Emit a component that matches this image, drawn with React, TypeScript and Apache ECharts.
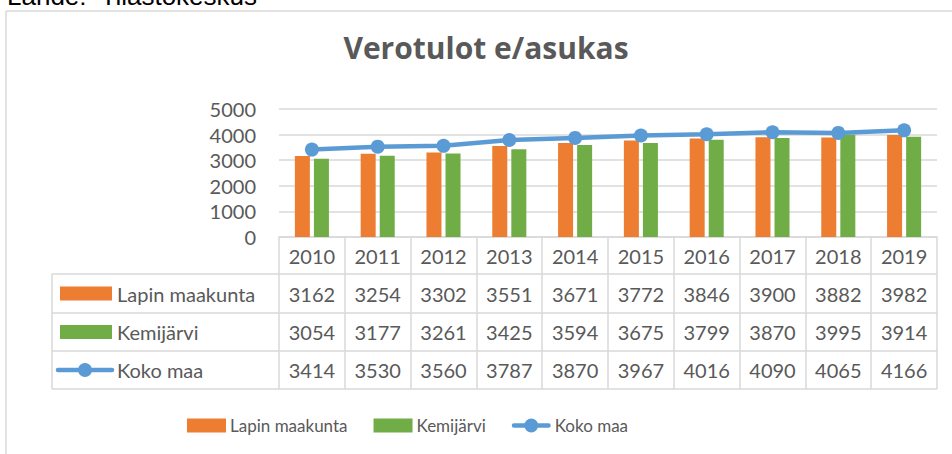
import React, { useEffect, useRef } from "react";
import * as echarts from "echarts";

const years = ["2010", "2011", "2012", "2013", "2014", "2015", "2016", "2017", "2018", "2019"];
const lapin = [3162, 3254, 3302, 3551, 3671, 3772, 3846, 3900, 3882, 3982];
const kemijarvi = [3054, 3177, 3261, 3425, 3594, 3675, 3799, 3870, 3995, 3914];
const kokoMaa = [3414, 3530, 3560, 3787, 3870, 3967, 4016, 4090, 4065, 4166];
const seriesNames = ["Lapin maakunta", "Kemijärvi", "Koko maa"];
const yTicks = { min: 0, max: 5000, interval: 1000 };

const ORANGE = "#ED7D31";
const GREEN = "#70AD47";
const BLUE = "#5B9BD5";
const TEXT = "#595959";
const GRID = "#D9D9D9";
const FONT = 'Lato, "Open Sans", sans-serif';
const LINE_ICON =
  "path://M2,4.75 H37 A2.25,2.25 0 0 1 37,9.25 H2 A2.25,2.25 0 0 1 2,4.75 Z M12.5,7 A7,7 0 1 1 26.5,7 A7,7 0 1 1 12.5,7 Z";

export default function App() {
  const ref = useRef<HTMLDivElement>(null);
  useEffect(() => {
    if (!ref.current) return;
    const chart = echarts.init(ref.current, null, { renderer: "svg" });
    const tableLeft = 52;
    const tableRight = 937;
    const rowLines = [274, 313, 351, 389];
    const rowCenters = [293.5, 332, 370];
    const graphics: any[] = [
      // outer chart border
      { type: "line", shape: { x1: 6, y1: 11, x2: 952, y2: 11 }, style: { stroke: GRID, lineWidth: 1.5 } },
      { type: "line", shape: { x1: 6, y1: 11, x2: 6, y2: 454 }, style: { stroke: GRID, lineWidth: 1.5 } },
      {
        type: "text",
        x: 7,
        y: -4,
        style: { text: "Lähde:  Tilastokeskus", fill: "#000", font: '26px "Liberation Sans", Arial, sans-serif', verticalAlign: "middle" },
      },
      {
        type: "text",
        x: 486,
        y: 47,
        style: { text: "Verotulot e/asukas", fill: TEXT, font: 'bold 30px "Open Sans", Lato, sans-serif', align: "center", verticalAlign: "middle" },
      },
      // table left border
      { type: "line", shape: { x1: tableLeft, y1: 274, x2: tableLeft, y2: 389 }, style: { stroke: GRID, lineWidth: 1.5 } },
      ...rowLines.map((y) => ({
        type: "line",
        shape: { x1: tableLeft, y1: y, x2: tableRight, y2: y },
        style: { stroke: GRID, lineWidth: 1.5 },
      })),
      // row keys
      { type: "rect", shape: { x: 60, y: rowCenters[0] - 7, width: 52, height: 14 }, style: { fill: ORANGE } },
      { type: "rect", shape: { x: 60, y: rowCenters[1] - 7, width: 52, height: 14 }, style: { fill: GREEN } },
      { type: "line", shape: { x1: 58, y1: rowCenters[2], x2: 112, y2: rowCenters[2] }, style: { stroke: BLUE, lineWidth: 4.5, lineCap: "round" } },
      { type: "circle", shape: { cx: 85, cy: rowCenters[2], r: 7 }, style: { fill: BLUE } },
      ...seriesNames.map((n, i) => ({
        type: "text",
        x: 117,
        y: rowCenters[i],
        style: { text: n, fill: TEXT, font: `20px ${FONT}`, verticalAlign: "middle" },
      })),
    ];

    chart.setOption({
      animation: false,
      textStyle: { fontFamily: FONT },
      grid: { left: 279, right: 15, top: 109, bottom: 217, containLabel: false },
      legend: {
        left: 187,
        top: 417,
        padding: 0,
        itemWidth: 39,
        itemHeight: 14,
        itemGap: 26,
        textStyle: { color: TEXT, fontSize: 17, fontFamily: FONT, padding: [0, 0, 0, -1] },
        data: [
          { name: seriesNames[0], icon: "rect" },
          { name: seriesNames[1], icon: "rect" },
          { name: seriesNames[2], icon: LINE_ICON },
        ],
      },
      xAxis: {
        type: "category",
        data: years,
        boundaryGap: true,
        axisLine: { show: true, lineStyle: { color: GRID, width: 1.5 } },
        axisTick: { show: true, interval: 0, length: 152, lineStyle: { color: GRID, width: 1.5 } },
        axisLabel: {
          interval: 0,
          margin: 0,
          verticalAlign: "top",
          color: TEXT,
          fontSize: 20,
          fontFamily: FONT,
          lineHeight: 38,
          formatter: (v: string, i: number) => `${v}\n${lapin[i]}\n${kemijarvi[i]}\n${kokoMaa[i]}`,
        },
      },
      yAxis: {
        type: "value",
        min: yTicks.min,
        max: yTicks.max,
        interval: yTicks.interval,
        axisLine: { show: false },
        axisTick: { show: false },
        splitLine: { lineStyle: { color: GRID, width: 1.5 } },
        axisLabel: { color: TEXT, fontSize: 20, fontFamily: FONT, margin: 23, formatter: (v: number) => String(v) },
      },
      series: [
        { name: seriesNames[0], type: "bar", data: lapin, barWidth: 15, barGap: "27%", itemStyle: { color: ORANGE } },
        { name: seriesNames[1], type: "bar", data: kemijarvi, barWidth: 15, barGap: "27%", itemStyle: { color: GREEN } },
        {
          name: seriesNames[2],
          type: "line",
          data: kokoMaa,
          symbol: "circle",
          symbolSize: 14,
          lineStyle: { color: BLUE, width: 4.5 },
          itemStyle: { color: BLUE },
          z: 5,
        },
      ],
      graphic: graphics,
    });
    return () => chart.dispose();
  }, []);
  return <div ref={ref} style={{ position: "absolute", left: 0, top: 0, width: 952, height: 454 }} />;
}
